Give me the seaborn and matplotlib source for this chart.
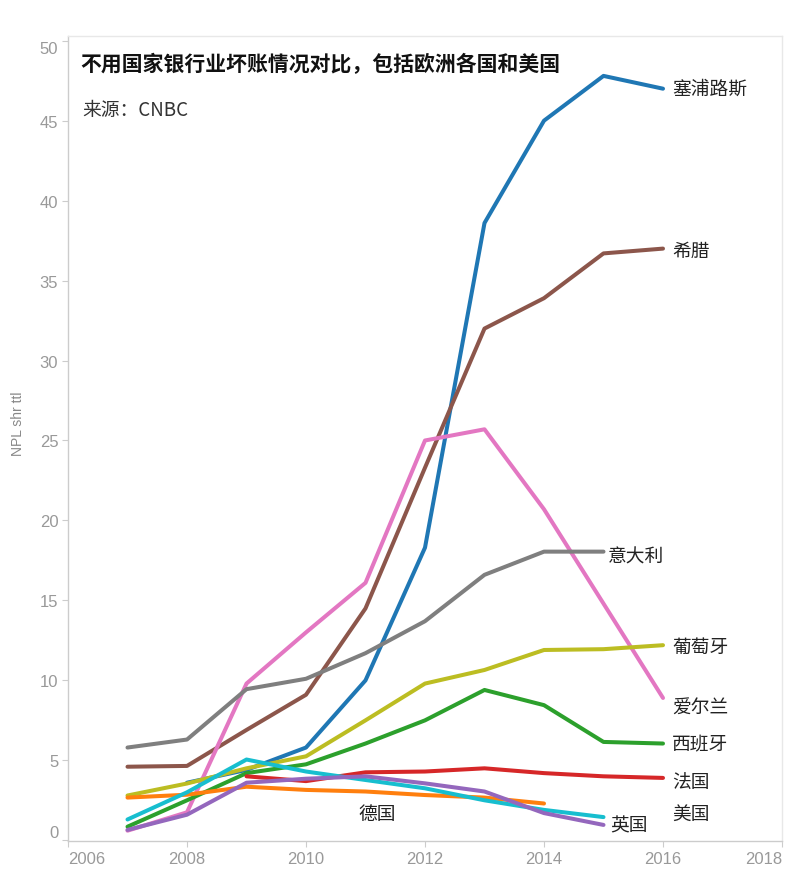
import pandas as pd
import matplotlib
matplotlib.use("Agg")
import matplotlib.pyplot as plt
import seaborn as sns

# Data (NPL ratio, %)
cyprus_years = [2008, 2009, 2010, 2011, 2012, 2013, 2014, 2015, 2016]
cyprus = [3.6, 4.4, 5.8, 10.0, 18.3, 38.6, 45.0, 47.8, 47.0]

greece_years = [2007, 2008, 2009, 2010, 2011, 2012, 2013, 2014, 2015, 2016]
greece = [4.6, 4.65, 6.9, 9.1, 14.5, 23.3, 32.0, 33.9, 36.7, 37.0]

ireland_years = [2007, 2008, 2009, 2010, 2011, 2012, 2013, 2014, 2015, 2016]
ireland = [0.6, 1.75, 9.8, 13.0, 16.1, 25.0, 25.7, 20.7, 14.8, 8.9]

italy_years = [2007, 2008, 2009, 2010, 2011, 2012, 2013, 2014, 2015]
italy = [5.8, 6.3, 9.45, 10.1, 11.7, 13.7, 16.6, 18.05, 18.05]

portugal_years = [2007, 2008, 2009, 2010, 2011, 2012, 2013, 2014, 2015, 2016]
portugal = [2.8, 3.55, 4.5, 5.25, 7.5, 9.8, 10.65, 11.9, 11.95, 12.2]

spain_years = [2007, 2008, 2009, 2010, 2011, 2012, 2013, 2014, 2015, 2016]
spain = [0.85, 2.5, 4.2, 4.75, 6.05, 7.5, 9.4, 8.45, 6.15, 6.05]

france_years = [2009, 2010, 2011, 2012, 2013, 2014, 2015, 2016]
france = [4.0, 3.7, 4.25, 4.3, 4.5, 4.2, 4.0, 3.9]

germany_years = [2007, 2008, 2009, 2010, 2011, 2012, 2013, 2014]
germany = [2.67, 2.85, 3.35, 3.15, 3.05, 2.83, 2.67, 2.3]

usa_years = [2007, 2008, 2009, 2010, 2011, 2012, 2013, 2014, 2015]
usa = [1.3, 3.0, 5.05, 4.3, 3.77, 3.25, 2.5, 1.9, 1.45]

uk_years = [2007, 2008, 2009, 2010, 2011, 2012, 2013, 2014, 2015]
uk = [0.65, 1.6, 3.6, 3.85, 4.0, 3.56, 3.05, 1.7, 0.96]

countries = ["塞浦路斯", "希腊", "爱尔兰", "意大利", "葡萄牙", "西班牙",
             "法国", "德国", "美国", "英国"]
series = [(cyprus_years, cyprus), (greece_years, greece), (ireland_years, ireland),
          (italy_years, italy), (portugal_years, portugal), (spain_years, spain),
          (france_years, france), (germany_years, germany), (usa_years, usa),
          (uk_years, uk)]

colors = {"塞浦路斯": "#1f77b4", "希腊": "#8c564b", "爱尔兰": "#e377c2",
          "意大利": "#7f7f7f", "葡萄牙": "#bcbd22", "西班牙": "#2ca02c",
          "法国": "#d62728", "德国": "#ff7f0e", "美国": "#17becf", "英国": "#9467bd"}

# label offsets in pixels from the anchor point (last point unless noted)
label_offsets = {"塞浦路斯": (9, 0), "希腊": (9, -2), "爱尔兰": (9, -9),
                 "意大利": (4, -4), "葡萄牙": (9, -1), "西班牙": (9, 0),
                 "法国": (9, -4), "德国": (-7, -22), "美国": (69, 4), "英国": (7, 0)}

frames = []
for name, (yrs, vals) in zip(countries, series):
    frames.append(pd.DataFrame({"year": yrs, "npl": vals, "country": name}))
df = pd.concat(frames, ignore_index=True)

sns.set_theme(style="white")
plt.rcParams['font.family'] = ['Noto Sans CJK SC', 'DejaVu Sans']

fig = plt.figure(figsize=(8, 8.79), dpi=100)
ax = fig.add_axes([0.085, 0.042, 0.8925, 0.916])

sns.lineplot(data=df, x="year", y="npl", hue="country", palette=colors,
             hue_order=countries, linewidth=2.9, legend=False, ax=ax)

ax.set_xlim(2006, 2018)
ax.set_ylim(-0.05, 50.3)
ax.set_xticks([2006, 2008, 2010, 2012, 2014, 2016, 2018])
ax.set_yticks([0, 5, 10, 15, 20, 25, 30, 35, 40, 45, 50])
ax.set_xlabel("")
ax.set_ylabel("NPL shr ttl", fontsize=10, color="#888888",
              family=["Liberation Sans", "DejaVu Sans"])
ax.yaxis.set_label_coords(-0.06, 0.52)

ax.tick_params(axis="both", length=4, width=0.8, color="#cccccc",
               labelcolor="#999999", labelsize=12, pad=3, bottom=True, left=True)
for lab in ax.get_xticklabels() + ax.get_yticklabels():
    lab.set_family(["Liberation Sans", "DejaVu Sans"])
xl = ax.get_xticklabels()
xl[0].set_horizontalalignment("left")
xl[-1].set_horizontalalignment("right")
yl = ax.get_yticklabels()
yl[0].set_verticalalignment("bottom")
yl[-1].set_verticalalignment("top")

for side in ["left", "bottom"]:
    ax.spines[side].set_color("#cccccc")
    ax.spines[side].set_linewidth(1.0)
for side in ["top", "right"]:
    ax.spines[side].set_color("#e8e8e8")
    ax.spines[side].set_linewidth(1.0)

# direct labels
for name, (yrs, vals) in zip(countries, series):
    if name == "德国":
        ax_x, ax_y = yrs[4], vals[4]
    else:
        ax_x, ax_y = yrs[-1], vals[-1]
    dx, dy = label_offsets[name]
    ax.annotate(name, (ax_x, ax_y), xytext=(dx, dy), textcoords="offset pixels",
                ha="left", va="center", fontsize=13.5, color="#222222")

fig.text(0.1, 0.927, "不用国家银行业坏账情况对比，包括欧洲各国和美国",
         fontsize=15, fontweight="bold", color="#111111", va="center", ha="left")
fig.text(0.1025, 0.874, "来源：CNBC", fontsize=13.5, color="#333333",
         va="center", ha="left")

fig.savefig("out.png", dpi=100, facecolor="white")
